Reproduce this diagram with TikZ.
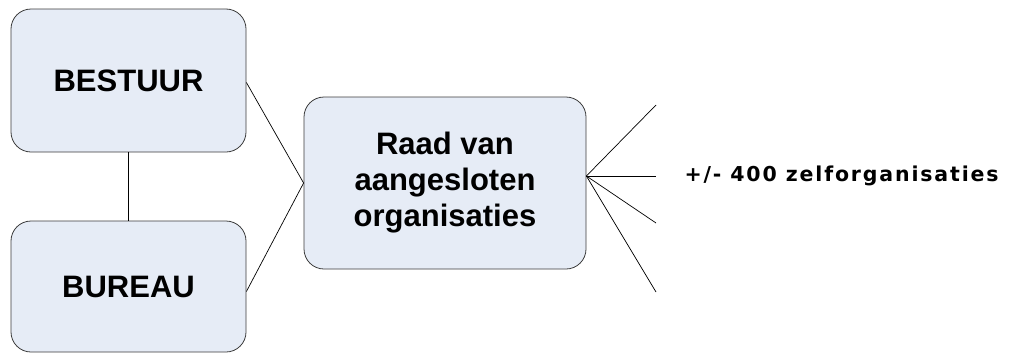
\documentclass[tikz,border=0pt]{standalone}
\usepackage{fontspec}
\setmainfont{Liberation Sans}
\newfontfamily\labelfont[LetterSpace=9]{DejaVu Sans}
\usetikzlibrary{positioning}
\definecolor{boxfill}{HTML}{E6ECF6}
\definecolor{boxline}{HTML}{3C3C3C}

\begin{document}
\begin{tikzpicture}[x=1pt,y=-1pt,
    block/.style={draw=boxline, fill=boxfill, rounded corners=20pt,
        align=center, font=\fontsize{31}{36}\selectfont\bfseries, line width=0.8pt},
    link/.style={line width=0.7pt}]
\useasboundingbox (0,0) rectangle (1016,359);

% Left blocks
\node[block,
    minimum width=235pt,
    minimum height=143pt] (bestuur) at (128.5,80.5) {BESTUUR};

\node[block,
    minimum width=235pt,
    minimum height=131pt] (bureau) at (128.5,286.5) {BUREAU};

% Council
\node[block,
    minimum width=282pt,
    minimum height=172pt] (raad) at (445,183) {Raad van\\aangesloten\\organisaties};

% Fan ends
\coordinate (f1) at (656,105);
\coordinate (f2) at (656,176);
\coordinate (f3) at (656,223);
\coordinate (f4) at (656,292);
\coordinate (hub) at ([yshift=7pt]raad.east);

\node[anchor=west, font=\labelfont\bfseries\fontsize{20.5}{24}\selectfont] (zelf) at (681,176) {+/- 400 zelforganisaties};

% Lines
\draw[link] (bestuur) -- (bureau);
\draw[link] ([yshift=-2pt]bestuur.east) -- (raad.west);
\draw[link] ([yshift=-5pt]bureau.east) -- (raad.west);
\foreach \f in {f1,f2,f3,f4}
    \draw[link] (hub) -- (\f);

\end{tikzpicture}
\end{document}
